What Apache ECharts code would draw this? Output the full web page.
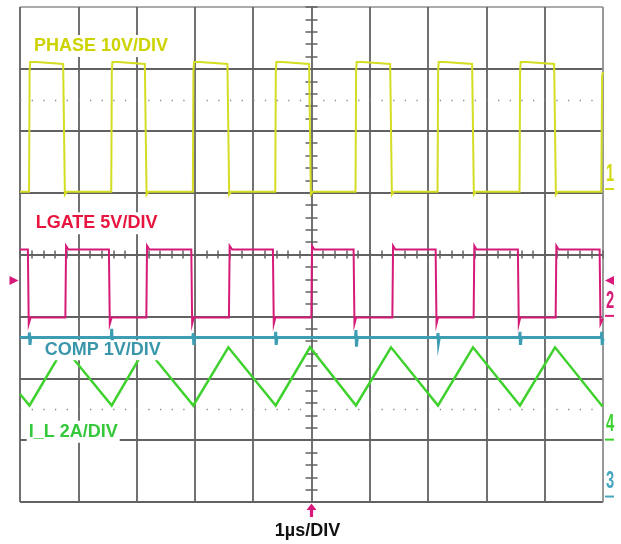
<!DOCTYPE html>
<html>
<head>
<meta charset="utf-8">
<script src="https://cdn.jsdelivr.net/npm/echarts@6/dist/echarts.min.js"></script>
<style>
  html, body { margin: 0; padding: 0; background: #ffffff; }
  #scope { width: 621px; height: 544px; }
</style>
</head>
<body>
<div id="scope"></div>
<script>
// Timebase: 1 µs per division, 10 divisions, trigger point at t = 0 (screen centre)
const timeWindow = [-5, 5];
const timePerDiv = 1;
const screenDivsY = 8;

// Vertical settings per channel: scale per division and ground marker (divisions above bottom)
const channelNames = ['PHASE', 'LGATE', 'COMP', 'I_L'];
const channelNumbers = ['1', '2', '3', '4'];
const channelPerDiv = [10, 5, 1, 2];
const channelGroundDiv = [5.05, 3, 0.08, 1];
const channelLabels = ['PHASE 10V/DIV', 'LGATE 5V/DIV', 'COMP 1V/DIV', 'I_L 2A/DIV'];
const timebaseLabel = '1µs/DIV';

// LGATE trigger level (V)
const triggerLevel = 2.9;

// CH1 switch node, [t (µs), V]
const phaseTrace = [
  [-5.000, -0.35],
  [-4.845, -0.35], [-4.835, 19.1], [-4.825, 20.6], [-4.720, 20.6], [-4.700, 20.3], [-4.260, 20.3], [-4.230, -0.8], [-4.200, -0.35],
  [-3.435, -0.35], [-3.425, 19.1], [-3.415, 20.6], [-3.310, 20.6], [-3.290, 20.3], [-2.859, 20.3], [-2.829, -0.8], [-2.800, -0.35],
  [-2.035, -0.35], [-2.025, 19.1], [-2.015, 20.6], [-1.910, 20.6], [-1.890, 20.3], [-1.442, 20.3], [-1.412, -0.8], [-1.380, -0.35],
  [-0.622, -0.35], [-0.612, 19.1], [-0.602, 20.6], [-0.500, 20.6], [-0.480, 20.3], [-0.041, 20.3], [-0.011, -0.8], [0.020, -0.35],
  [0.755, -0.35], [0.765, 19.1], [0.775, 20.6], [0.880, 20.6], [0.900, 20.3], [1.349, 20.3], [1.379, -0.8], [1.410, -0.35],
  [2.162, -0.35], [2.172, 19.1], [2.182, 20.6], [2.290, 20.6], [2.310, 20.3], [2.755, 20.3], [2.785, -0.8], [2.820, -0.35],
  [3.568, -0.35], [3.578, 19.1], [3.588, 20.6], [3.690, 20.6], [3.710, 20.3], [4.162, 20.3], [4.192, -0.8], [4.220, -0.35],
  [4.970, -0.35], [4.985, 18.4], [5.000, 19.0]
];

// CH2 low-side gate drive, [t (µs), V]
const lgateTrace = [
  [-5.000, 5.4],
  [-4.865, 5.4], [-4.850, -0.6], [-4.820, -0.1], [-4.222, -0.1], [-4.210, 5.7], [-4.170, 5.4],
  [-3.475, 5.4], [-3.460, -0.6], [-3.430, -0.1], [-2.833, -0.1], [-2.821, 5.7], [-2.780, 5.4],
  [-2.062, 5.4], [-2.047, -0.6], [-2.020, -0.1], [-1.416, -0.1], [-1.404, 5.7], [-1.360, 5.4],
  [-0.662, 5.4], [-0.647, -0.6], [-0.620, -0.1], [-0.003, -0.1], [0.009, 5.7], [0.050, 5.4],
  [0.722, 5.4], [0.737, -0.6], [0.765, -0.1], [1.387, -0.1], [1.399, 5.7], [1.440, 5.4],
  [2.129, 5.4], [2.144, -0.6], [2.170, -0.1], [2.781, -0.1], [2.793, 5.7], [2.830, 5.4],
  [3.540, 5.4], [3.555, -0.6], [3.580, -0.1], [4.188, -0.1], [4.200, 5.7], [4.240, 5.4],
  [4.942, 5.4], [4.957, -0.6], [4.985, -0.3], [5.000, -0.2]
];

// CH3 error amplifier output, [t (µs), V]
const compTrace = [
  [-5.000, 2.58],
  [-4.845, 2.58], [-4.837, 2.66], [-4.829, 2.46], [-4.815, 2.58],
  [-3.435, 2.58], [-3.427, 2.72], [-3.419, 2.52], [-3.405, 2.58],
  [-2.035, 2.58], [-2.027, 2.65], [-2.019, 2.46], [-2.005, 2.58],
  [-0.622, 2.58], [-0.614, 2.67], [-0.606, 2.46], [-0.592, 2.58],
  [0.755, 2.58], [0.763, 2.70], [0.771, 2.43], [0.785, 2.58],
  [2.162, 2.58], [2.170, 2.65], [2.178, 2.50], [2.192, 2.58],
  [3.568, 2.58], [3.576, 2.67], [3.584, 2.46], [3.598, 2.58],
  [4.970, 2.58], [4.978, 2.67], [4.986, 2.46], [5.000, 2.56]
];

// CH4 inductor current, [t (µs), A]
const ilTrace = [
  [-5.000, 1.49], [-4.837, 1.12], [-4.245, 3.00], [-3.427, 1.12], [-2.844, 3.00],
  [-2.027, 1.12], [-1.427, 3.00], [-0.614, 1.12], [-0.026, 3.00], [0.763, 1.12],
  [1.364, 3.00], [2.170, 1.12], [2.770, 3.00], [3.576, 1.12], [4.177, 3.00],
  [4.978, 1.12], [5.000, 1.16]
];

const traceColors = ['#d5dd22', '#d61a78', '#3d9db3', '#3fd22e'];
const labelColors = ['#cdd300', '#e8163e', '#3a96ab', '#35c83a'];
const markerColors = ['#d3db10', '#d81b77', '#48a6c0', '#3cd22e'];
const triggerColor = '#d8187a';

const gridBox = { left: 20, right: 18, top: 7, bottom: 42 };
const plotW = 621 - gridBox.left - gridBox.right;
const plotH = 544 - gridBox.top - gridBox.bottom;
const gridGray = '#626262';
const xLineColors = Array(10).fill(gridGray).concat(['#8e8e8e']);
const yLineColors = Array(8).fill(gridGray).concat(['#ababab']);

const chart = echarts.init(document.getElementById('scope'), null, { renderer: 'canvas' });

const hiddenAxis = { axisLine: { show: false }, axisTick: { show: false }, axisLabel: { show: false }, splitLine: { show: false } };
const tickStyle = { color: gridGray, width: 1.5 };

function centreXAxis(inside) {
  return {
    type: 'value', min: timeWindow[0], max: timeWindow[1], interval: timePerDiv,
    position: 'bottom', offset: -plotH / 2,
    axisLine: { show: false },
    axisTick: { show: true, inside: inside, length: 4, lineStyle: tickStyle },
    minorTick: { show: true, splitNumber: 5, length: 4, lineStyle: tickStyle },
    axisLabel: { show: false }, splitLine: { show: false }
  };
}
function centreYAxis(inside) {
  return {
    type: 'value', min: 0, max: screenDivsY, interval: 1,
    position: 'left', offset: -plotW / 2,
    axisLine: { show: false },
    axisTick: { show: true, inside: inside, length: 6, lineStyle: tickStyle },
    minorTick: { show: true, splitNumber: 5, length: 6, lineStyle: tickStyle },
    axisLabel: { show: false }, splitLine: { show: false }
  };
}

const channelAxes = channelPerDiv.map((perDiv, i) => Object.assign({
  type: 'value',
  min: -channelGroundDiv[i] * perDiv,
  max: (screenDivsY - channelGroundDiv[i]) * perDiv,
  show: false
}, hiddenAxis));

const traces = [phaseTrace, lgateTrace, compTrace, ilTrace];
const traceWidths = [2, 2, 3, 2.5];

const dotSpacing = plotW / 50;

const option = {
  animation: false,
  backgroundColor: '#ffffff',
  grid: Object.assign({ containLabel: false, outerBoundsMode: 'none', show: false }, gridBox),
  xAxis: [
    {
      type: 'value', min: timeWindow[0], max: timeWindow[1], interval: timePerDiv,
      axisLine: { show: false }, axisTick: { show: false }, axisLabel: { show: false },
      splitLine: { show: true, showMinLine: true, showMaxLine: true, lineStyle: { color: xLineColors, width: 1.8 } }
    },
    centreXAxis(false),
    centreXAxis(true)
  ],
  yAxis: [
    {
      type: 'value', min: 0, max: screenDivsY, interval: 1,
      axisLine: { show: false }, axisTick: { show: false }, axisLabel: { show: false },
      splitLine: { show: true, showMinLine: true, showMaxLine: true, lineStyle: { color: yLineColors, width: 1.8 } }
    },
    centreYAxis(false),
    centreYAxis(true)
  ].concat(channelAxes),
  series: [
    {
      // dotted half-division graticule rows
      type: 'line', xAxisIndex: 0, yAxisIndex: 0, data: [], silent: true,
      markLine: {
        silent: true, symbol: ['none', 'none'], label: { show: false },
        lineStyle: { color: '#8a8a8a', width: 1.3, type: [1.3, dotSpacing - 1.3] },
        data: [{ yAxis: 6.5 }, { yAxis: 1.5 }]
      }
    }
  ].concat(traces.map((data, i) => ({
    name: channelNames[i],
    type: 'line',
    xAxisIndex: 0,
    yAxisIndex: 3 + i,
    data: data,
    showSymbol: false,
    symbol: 'none',
    silent: true,
    clip: true,
    lineStyle: { color: traceColors[i], width: traceWidths[i], join: 'miter' },
    z: 3 + i
  })))
};

chart.setOption(option);

// Screen annotations: channel labels, ground markers, trigger markers, timebase
const labelFont = 'bold 18px "Liberation Sans", Arial, sans-serif';
const labelSpots = [[31, 46], [32.7, 223.3], [41.7, 350.3], [26.7, 431.7]];
const labelPads = [[2, 3], [2, 3], [1, 3], [2, 2]];

const graphics = [];
channelLabels.forEach((txt, i) => {
  graphics.push({
    type: 'text', x: labelSpots[i][0], y: labelSpots[i][1], z: 100, silent: true,
    style: {
      text: txt, fill: labelColors[i], font: labelFont,
      align: 'left', verticalAlign: 'middle',
      backgroundColor: '#ffffff', padding: labelPads[i]
    }
  });
});

const markerX = gridBox.left + plotW + 2;
channelNumbers.forEach((num, i) => {
  const gy = chart.convertToPixel({ yAxisIndex: 3 + i }, 0);
  graphics.push({
    type: 'line', z: 100, silent: true,
    shape: { x1: markerX, y1: gy - 0.5, x2: markerX + 9, y2: gy - 0.5 },
    style: { stroke: markerColors[i], lineWidth: 2 }
  });
  graphics.push({
    type: 'text', x: markerX + 5, y: gy - 15, z: 100, silent: true,
    scaleX: 0.64,
    style: {
      text: num, fill: markerColors[i],
      font: 'bold 23px "Liberation Sans", Arial, sans-serif',
      align: 'center', verticalAlign: 'middle'
    }
  });
});

const trigY = chart.convertToPixel({ yAxisIndex: 4 }, triggerLevel);
const plotRight = gridBox.left + plotW;
graphics.push({
  type: 'polygon', z: 100, silent: true,
  shape: { points: [[9.5, trigY - 4.5], [9.5, trigY + 4.5], [18.5, trigY]] },
  style: { fill: triggerColor }
});
graphics.push({
  type: 'polygon', z: 100, silent: true,
  shape: { points: [[plotRight + 11, trigY - 4.5], [plotRight + 11, trigY + 4.5], [plotRight + 2, trigY]] },
  style: { fill: triggerColor }
});

const trigX = chart.convertToPixel({ xAxisIndex: 0 }, 0);
const plotBottom = gridBox.top + plotH;
graphics.push({
  type: 'polygon', z: 100, silent: true,
  shape: { points: [[trigX - 5, plotBottom + 8], [trigX + 5, plotBottom + 8], [trigX, plotBottom + 1.5]] },
  style: { fill: triggerColor }
});
graphics.push({
  type: 'rect', z: 100, silent: true,
  shape: { x: trigX - 1.6, y: plotBottom + 7, width: 3.2, height: 8 },
  style: { fill: triggerColor }
});

graphics.push({
  type: 'text', x: 307.5, y: 531, z: 100, silent: true,
  style: {
    text: timebaseLabel, fill: '#111111', font: labelFont,
    align: 'center', verticalAlign: 'middle'
  }
});

chart.setOption({ graphic: { elements: graphics } });
</script>
</body>
</html>
